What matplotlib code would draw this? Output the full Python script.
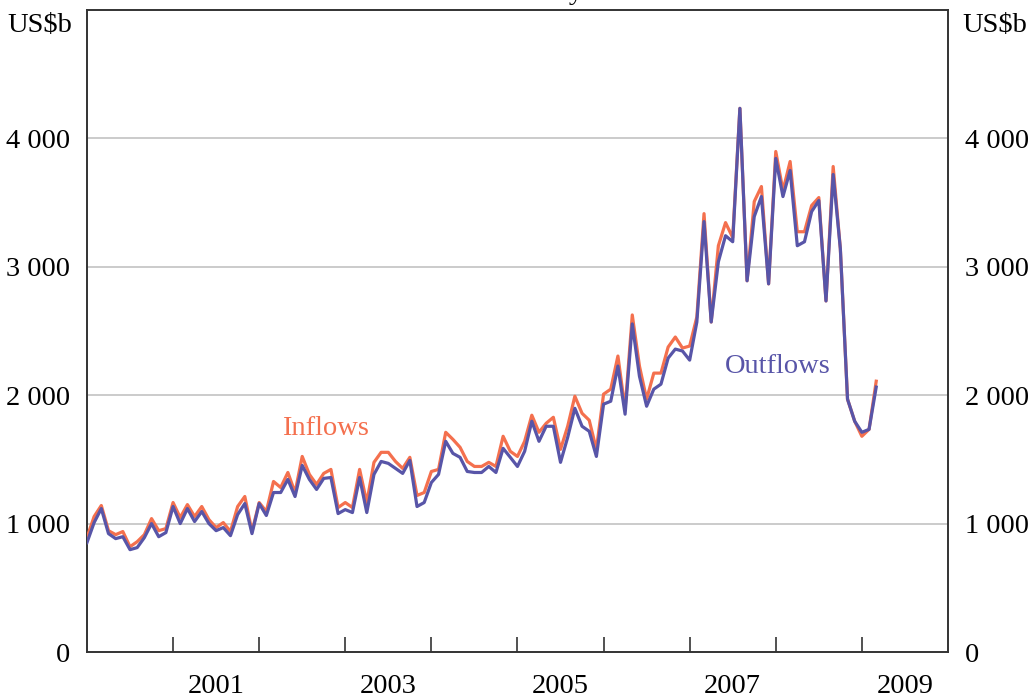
import numpy as np
import matplotlib.pyplot as plt
from matplotlib.ticker import FuncFormatter

# monthly, Jan 2000 to Mar 2009, US$b
inflows = [891, 1055, 1141, 945, 914, 938, 820, 859, 914, 1039, 945, 961,
           1164, 1047, 1148, 1055, 1133, 1031, 969, 1008, 938, 1133, 1211, 938,
           1164, 1094, 1328, 1281, 1398, 1242, 1523, 1383, 1305, 1391, 1422, 1125,
           1164, 1125, 1422, 1164, 1477, 1555, 1555, 1484, 1430, 1516, 1219, 1242,
           1406, 1422, 1711, 1656, 1594, 1484, 1445, 1445, 1477, 1445, 1680, 1563,
           1523, 1641, 1844, 1711, 1781, 1828, 1578, 1758, 1992, 1859, 1805, 1578,
           2008, 2047, 2305, 1891, 2625, 2227, 1969, 2172, 2172, 2375, 2453, 2367,
           2383, 2609, 3414, 2570, 3164, 3344, 3227, 4234, 2891, 3508, 3625, 2867,
           3898, 3594, 3820, 3273, 3273, 3477, 3539, 2734, 3781, 3141, 1969, 1797,
           1680, 1734, 2109]
outflows = [852, 1008, 1117, 922, 883, 898, 797, 813, 891, 1000, 898, 930,
            1133, 1000, 1117, 1016, 1094, 1000, 945, 969, 906, 1070, 1156, 922,
            1156, 1063, 1242, 1242, 1344, 1211, 1453, 1344, 1266, 1352, 1359, 1078,
            1109, 1086, 1359, 1086, 1383, 1484, 1469, 1430, 1391, 1492, 1133, 1164,
            1320, 1383, 1641, 1547, 1516, 1406, 1398, 1398, 1445, 1398, 1586, 1516,
            1445, 1563, 1797, 1641, 1758, 1758, 1477, 1672, 1898, 1758, 1719, 1523,
            1930, 1953, 2227, 1852, 2555, 2148, 1914, 2047, 2086, 2289, 2359, 2344,
            2273, 2570, 3352, 2570, 3039, 3242, 3195, 4234, 2891, 3391, 3547, 2867,
            3844, 3547, 3750, 3164, 3195, 3430, 3516, 2734, 3719, 3141, 1969, 1797,
            1711, 1734, 2063]
t = 2000 + np.arange(len(inflows)) / 12.0

year_ticks = list(range(2001, 2010))
label_years = [2001, 2003, 2005, 2007, 2009]
y_ticks = [0, 1000, 2000, 3000, 4000]

c_in = '#F4704E'
c_out = '#5855A8'

plt.rcParams['font.family'] = ['Liberation Serif', 'DejaVu Serif']
fs = 20.5

fig = plt.figure(figsize=(10.34, 6.98), dpi=100)
ax = fig.add_axes([0.0841, 0.0659, 0.8327, 0.9198])

for y in y_ticks[1:]:
    ax.axhline(y, color='#BDBDBD', lw=1.1, zorder=1)
ax.plot(t, inflows, color=c_in, lw=2.3, zorder=3)
ax.plot(t, outflows, color=c_out, lw=2.3, zorder=4)

ax.set_xlim(2000, 2010)
ax.set_ylim(0, 5000)

ax.set_xticks(year_ticks)
ax.set_xticklabels([])
ax.set_xticks([y + 0.5 for y in label_years], minor=True)
ax.set_xticklabels([str(y) for y in label_years], minor=True, fontsize=fs)
ax.tick_params(axis='x', which='major', direction='in', length=11,
               width=1.2, color='#333333')
ax.tick_params(axis='x', which='minor', length=0, pad=16)

ax.set_yticks(y_ticks)
ax.yaxis.set_major_formatter(FuncFormatter(
    lambda v, p: format(int(v), ',').replace(',', ' ')))
ax.tick_params(axis='y', length=0, labelsize=fs, pad=12,
               labelleft=True, labelright=True)

for s in ax.spines.values():
    s.set_color('#333333')
    s.set_linewidth(1.4)

ax.text(0.2265, 0.348, 'Inflows', transform=ax.transAxes, color=c_in,
        fontsize=fs, va='center', ha='left')
ax.text(0.741, 0.445, 'Outflows', transform=ax.transAxes, color=c_out,
        fontsize=fs, va='center', ha='left')

fig.text(72 / 1034, 1 - 26 / 698, 'US$b', fontsize=fs, ha='right', va='center')
fig.text(962 / 1034, 1 - 26 / 698, 'US$b', fontsize=fs, ha='left', va='center')
fig.text(583 / 1034, 1 + 1 / 698, 'Monthly', fontsize=fs, ha='right',
         va='baseline')

fig.savefig('out.png', dpi=100)
